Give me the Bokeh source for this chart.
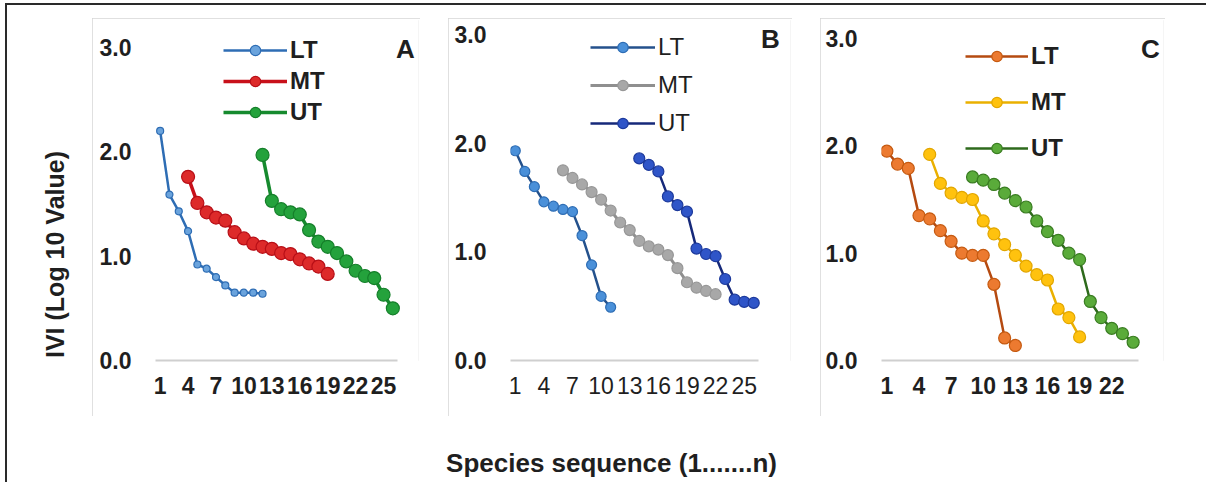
import math
from bokeh.plotting import figure
from bokeh.layouts import row, column
from bokeh.models import (Spacer, FixedTicker, Legend, LegendItem, Label, Range1d,
                          NumeralTickFormatter)
from bokeh.embed import file_html
from bokeh.resources import INLINE

# ---------------- data ----------------
series_names = ["LT", "MT", "UT"]
y_ticks = [0, 1, 2, 3]
ticks_ab = [1, 4, 7, 10, 13, 16, 19, 22, 25]
ticks_c = [1, 4, 7, 10, 13, 16, 19, 22]

# Panel A
a_lt_x = [1, 2, 3, 4, 5, 6, 7, 8, 9, 10, 11, 12]
a_lt_y = [2.20, 1.59, 1.43, 1.24, 0.92, 0.88, 0.80, 0.72, 0.65, 0.65, 0.65, 0.64]
a_mt_x = [4, 5, 6, 7, 8, 9, 10, 11, 12, 13, 14, 15, 16, 17, 18, 19]
a_mt_y = [1.76, 1.51, 1.42, 1.37, 1.34, 1.23, 1.17, 1.12, 1.09, 1.07, 1.03, 1.02, 0.97, 0.93, 0.90, 0.83]
a_ut_x = [12, 13, 14, 15, 16, 17, 18, 19, 20, 21, 22, 23, 24, 25, 26]
a_ut_y = [1.97, 1.53, 1.45, 1.42, 1.40, 1.25, 1.14, 1.09, 1.03, 0.95, 0.86, 0.81, 0.79, 0.63, 0.50]

# Panel B
b_lt_x = [1, 2, 3, 4, 5, 6, 7, 8, 9, 10, 11]
b_lt_y = [1.93, 1.74, 1.60, 1.46, 1.42, 1.39, 1.37, 1.15, 0.88, 0.59, 0.49]
b_mt_x = [6, 7, 8, 9, 10, 11, 12, 13, 14, 15, 16, 17, 18, 19, 20, 21, 22]
b_mt_y = [1.75, 1.68, 1.62, 1.55, 1.48, 1.38, 1.27, 1.20, 1.10, 1.05, 1.02, 0.97, 0.85, 0.72, 0.67, 0.64, 0.61]
b_ut_x = [14, 15, 16, 17, 18, 19, 20, 21, 22, 23, 24, 25, 26]
b_ut_y = [1.86, 1.80, 1.74, 1.51, 1.43, 1.37, 1.03, 0.98, 0.96, 0.75, 0.56, 0.54, 0.53]

# Panel C
c_lt_x = [1, 2, 3, 4, 5, 6, 7, 8, 9, 10, 11, 12, 13]
c_lt_y = [1.95, 1.83, 1.79, 1.35, 1.32, 1.21, 1.11, 1.00, 0.98, 0.98, 0.71, 0.21, 0.14]
c_mt_x = [5, 6, 7, 8, 9, 10, 11, 12, 13, 14, 15, 16, 17, 18, 19]
c_mt_y = [1.92, 1.65, 1.56, 1.52, 1.50, 1.30, 1.18, 1.08, 0.98, 0.88, 0.80, 0.75, 0.48, 0.40, 0.22]
c_ut_x = [9, 10, 11, 12, 13, 14, 15, 16, 17, 18, 19, 20, 21, 22, 23, 24]
c_ut_y = [1.71, 1.68, 1.64, 1.56, 1.49, 1.43, 1.30, 1.20, 1.12, 1.00, 0.94, 0.55, 0.40, 0.30, 0.25, 0.17]

FONT = "Liberation Sans"
TXT = "#1f1f1f"
BOX = {"outline": "2px solid #d6d6d6", "outline-offset": "-2px"}
PANEL_TOP = 18
PANEL_H = 398
FT = 2                      # common top border (figures in a row share it)
FB = 56                     # common bottom border
FRAME_TOP = PANEL_TOP + FT
FRAME_BOT = PANEL_TOP + PANEL_H - FB   # page y of the x axis (y = 0)


def make_panel(cx0, w, data_left, data_right, y3_px, ncat, ticks, data, styles,
               leg, letter, bold_x, bold_leg):
    """cx0: canvas left (page px); data_left/right: px of x=0.5 / x=ncat+0.5;
    y3_px: page px of y=3 (y=0 sits on the common frame bottom)."""
    fl = data_left - cx0
    fr = 2
    frame_right = cx0 + w - fr
    px_per_cat = (data_right - data_left) / ncat
    x_end = 0.5 + (frame_right - data_left) / px_per_cat
    s = (FRAME_BOT - y3_px) / 3.0
    y_end = (FRAME_BOT - FRAME_TOP) / s

    p = figure(width=w, height=PANEL_H, x_range=Range1d(0.5, x_end),
               y_range=Range1d(0, y_end),
               output_backend="svg", toolbar_location=None,
               min_border_left=fl, min_border_right=fr, min_border_top=FT, min_border_bottom=FB,
               styles=BOX)
    p.outline_line_color = None
    p.grid.visible = False
    p.background_fill_color = "white"
    p.border_fill_color = "white"

    xa = p.xaxis[0]
    xa.bounds = (0.5, ncat + 0.5)
    xa.ticker = FixedTicker(ticks=ticks)
    xa.axis_line_color = "#cfcfcf"
    xa.axis_line_width = 2
    xa.major_tick_line_color = None
    xa.minor_tick_line_color = None
    xa.major_tick_out = 0
    xa.major_tick_in = 0
    xa.major_label_standoff = 16
    xa.major_label_text_font = FONT
    xa.major_label_text_font_size = "23px"
    xa.major_label_text_font_style = "bold" if bold_x else "normal"
    xa.major_label_text_color = TXT

    ya = p.yaxis[0]
    ya.ticker = FixedTicker(ticks=y_ticks)
    ya.formatter = NumeralTickFormatter(format="0.0")
    ya.axis_line_color = None
    ya.major_tick_line_color = None
    ya.minor_tick_line_color = None
    ya.major_tick_out = 0
    ya.major_tick_in = 0
    ya.major_label_standoff = 24
    ya.major_label_text_font = FONT
    ya.major_label_text_font_size = "23px"
    ya.major_label_text_font_style = "bold"
    ya.major_label_text_color = TXT

    items = []
    for name, (xs, ys), st in zip(series_names, data, styles):
        lr = p.line(xs, ys, line_color=st["line"], line_width=st["lw"])
        sr = p.scatter(xs, ys, size=st["size"], fill_color=st["fill"],
                       line_color=st["edge"], line_width=1.2)
        items.append(LegendItem(label=name, renderers=[lr, sr]))

    vx, legend_bottom_px, spacing, gw = leg
    legend = Legend(items=items, location=(vx, FRAME_BOT - legend_bottom_px),
                    orientation="vertical",
                    background_fill_alpha=0, border_line_color=None,
                    padding=0, margin=0, spacing=spacing,
                    glyph_width=gw, glyph_height=26, label_height=26,
                    label_standoff=3,
                    label_text_font=FONT, label_text_font_size="24px",
                    label_text_font_style="bold" if bold_leg else "normal",
                    label_text_color=TXT, label_text_baseline="middle")
    p.add_layout(legend)

    lt, lx, ly = letter
    p.add_layout(Label(x=lx - data_left, y=FRAME_BOT - ly, x_units="screen", y_units="screen",
                       text=lt, text_font=FONT, text_font_size="26px", text_font_style="bold",
                       text_color=TXT, text_align="center", text_baseline="middle"))
    return p


styles_a = [
    dict(line="#2e6db4", lw=2.5, size=7, fill="#6aa3dc", edge="#2e6db4"),
    dict(line="#c8101a", lw=3.5, size=13, fill="#dd2a2a", edge="#b80f17"),
    dict(line="#168a2e", lw=3.5, size=13, fill="#24a23c", edge="#157f2a"),
]
styles_b = [
    dict(line="#24518c", lw=2.5, size=10, fill="#4a90d9", edge="#2e6db4"),
    dict(line="#8f8f8f", lw=3, size=11, fill="#a8a8a8", edge="#979797"),
    dict(line="#16297a", lw=2.5, size=11, fill="#2f55c8", edge="#1d3a9c"),
]
styles_c = [
    dict(line="#b54a10", lw=2.5, size=12, fill="#ec7a30", edge="#c55a11"),
    dict(line="#eab000", lw=2.5, size=12, fill="#ffc20e", edge="#e2a600"),
    dict(line="#2e6a1c", lw=2.5, size=12, fill="#5aab3a", edge="#3a7d22"),
]

# legend tuple: (x offset from frame left, page y of legend bottom, spacing, glyph width)
pA = make_panel(92, 328, 155, 397, 47, 26, ticks_ab,
                [(a_lt_x, a_lt_y), (a_mt_x, a_mt_y), (a_ut_x, a_ut_y)], styles_a,
                (68, 126, 3, 64), ("A", 405, 48), True, True)
pB = make_panel(448, 344, 510, 758, 34, 26, ticks_ab,
                [(b_lt_x, b_lt_y), (b_mt_x, b_mt_y), (b_ut_x, b_ut_y)], styles_b,
                (80, 137, 10, 65), ("B", 770, 38), False, False)
pC = make_panel(820, 345, 881, 1138, 38, 24, ticks_c,
                [(c_lt_x, c_lt_y), (c_mt_x, c_mt_y), (c_ut_x, c_ut_y)], styles_c,
                (84, 162, 18, 63), ("C", 1150, 48), True, True)


def blank(w, h, **kw):
    f = figure(width=w, height=h, x_range=Range1d(0, 1), y_range=Range1d(0, 1),
               output_backend="svg", toolbar_location=None,
               x_axis_type=None, y_axis_type=None, **kw)
    f.outline_line_color = None
    f.grid.visible = False
    return f


left = blank(85, PANEL_H, min_border_left=0, min_border_right=0,
             min_border_top=FT, min_border_bottom=FB)
left.add_layout(Label(x=47, y=FRAME_BOT - 254, x_units="screen", y_units="screen",
                      text="IVI (Log 10 Value)", angle=math.pi / 2,
                      text_font=FONT, text_font_size="25px", text_font_style="bold",
                      text_color=TXT, text_align="center", text_baseline="middle"))

bottom = blank(1199, 66, min_border=0)
bottom.add_layout(Label(x=604, y=20, x_units="screen", y_units="screen",
                        text="Species sequence (1.......n)",
                        text_font=FONT, text_font_size="26px", text_font_style="bold",
                        text_color=TXT, text_align="center", text_baseline="middle"))

top = Spacer(width=1199, height=13)

layout = column(top,
                row(left, pA, Spacer(width=28), pB, Spacer(width=28), pC),
                bottom,
                styles={"border-top": "2px solid #2a2a2a", "border-left": "2px solid #2a2a2a",
                        "margin-left": "5px", "margin-top": "3px"})

open("out.html", "w").write(file_html(layout, INLINE))
